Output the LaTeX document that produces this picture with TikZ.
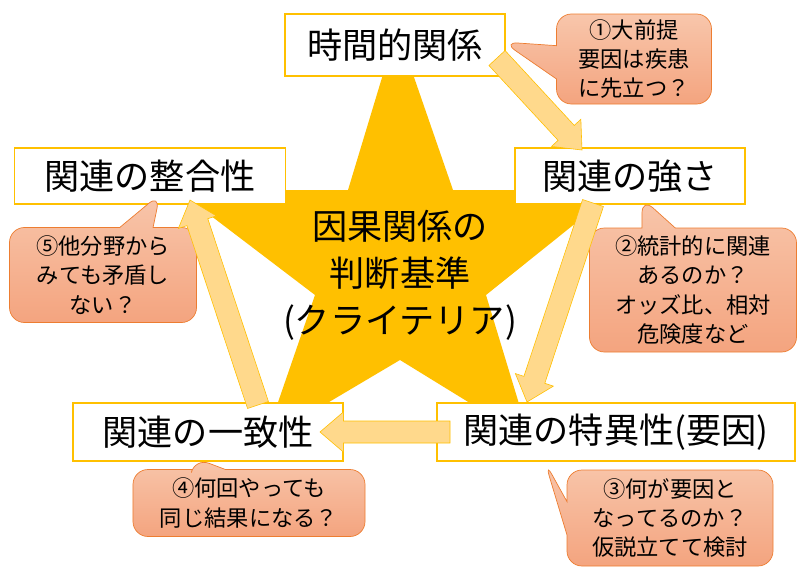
\documentclass[tikz,border=0pt]{standalone}
\usepackage{fontspec}
\setmainfont{Noto Sans CJK JP}
\usetikzlibrary{calc,shapes.callouts}
\definecolor{gold}{HTML}{FFC000}
\definecolor{arrowfill}{HTML}{FFD98C}
\definecolor{cofill1}{HTML}{F8C6AB}
\definecolor{cofill2}{HTML}{F4A47F}
\definecolor{coline}{HTML}{ED7D31}
\tikzset{
  box/.style={draw=gold, line width=1.2pt, fill=white, inner sep=0pt, font=\fontsize{30pt}{36pt}\selectfont},
  co/.style={rectangle callout, rounded corners=0.45cm, draw=coline, line width=0.6pt,
     top color=cofill1, bottom color=cofill2, align=center, inner sep=0pt,
     callout pointer width=1cm,
     font=\fontsize{19pt}{25pt}\selectfont},
  fat/.style={fill=arrowfill, draw=gold, line width=0.5pt, line join=miter}
}
\newcommand\fatarrow[2]{%
  \coordinate (h) at ($(#2)!0.7cm!(#1)$);
  \draw[fat] ($(#1)!0.33cm!-90:(#2)$) -- ($(h)!0.33cm!-90:(#2)$) -- ($(h)!0.6cm!-90:(#2)$)
    -- (#2) -- ($(h)!0.6cm!90:(#2)$) -- ($(h)!0.33cm!90:(#2)$) -- ($(#1)!0.33cm!90:(#2)$) -- cycle;}
\begin{document}
\begin{tikzpicture}[x=0.03cm,y=-0.03cm]
\useasboundingbox (0,0) rectangle (808,582);
% star
\fill[gold] (397,28) -- (453,190) -- (617,190) -- (486,295) -- (530,440) -- (400,360)
  -- (265,440) -- (315,295) -- (177,190) -- (348,190) -- cycle;
\node[align=center, font=\fontsize{30pt}{40pt}\selectfont] (center) at (400,275) {因果関係の\\判断基準\\(クライテリア)};
% boxes
\node[box, minimum width=6.6cm, minimum height=1.86cm] (t) at (395,45) {時間的関係};
\node[box, minimum width=6.9cm, minimum height=1.68cm] (s) at (630,176) {関連の強さ};
\node[box, minimum width=8.13cm, minimum height=1.68cm] (c) at (150,176) {関連の整合性};
\node[box, minimum width=10.74cm, minimum height=1.74cm] (sp) at (616,432) {関連の特異性(要因)};
\node[box, minimum width=8.1cm, minimum height=1.74cm] (k) at (208,432) {関連の一致性};
% callouts
\node[co, minimum width=4.65cm, minimum height=2.7cm, callout absolute pointer={(503,42)}] (c1) at (634,59) {①大前提\\要因は疾患\\に先立つ？};
\node[co, minimum width=6.21cm, minimum height=3.72cm, callout absolute pointer={(642,198)}] (c2) at (693,290) {②統計的に関連\\あるのか？\\オッズ比、相対\\危険度など};
\node[co, minimum width=6.18cm, minimum height=2.88cm, callout absolute pointer={(545,462)}] (c3) at (670,518) {③何が要因と\\なってるのか？\\仮説立てて検討};
\node[co, minimum width=6.96cm, minimum height=2.01cm, callout absolute pointer={(195,458)}] (c4) at (249,503) {④何回やっても\\同じ結果になる？};
\node[co, minimum width=5.61cm, minimum height=2.85cm, callout absolute pointer={(160,194)}] (c5) at (103,275) {⑤他分野から\\みても矛盾し\\ない？};
% arrows
\coordinate (a1) at (497,58); \coordinate (b1) at (582,150);
\coordinate (a2) at (593,203); \coordinate (b2) at (527,402);
\coordinate (a3) at (450,432); \coordinate (b3) at (320,432);
\coordinate (a4) at (258,405); \coordinate (b4) at (190,200);
\fatarrow{a1}{b1}
\fatarrow{a2}{b2}
\fatarrow{a3}{b3}
\fatarrow{a4}{b4}
\end{tikzpicture}
\end{document}
